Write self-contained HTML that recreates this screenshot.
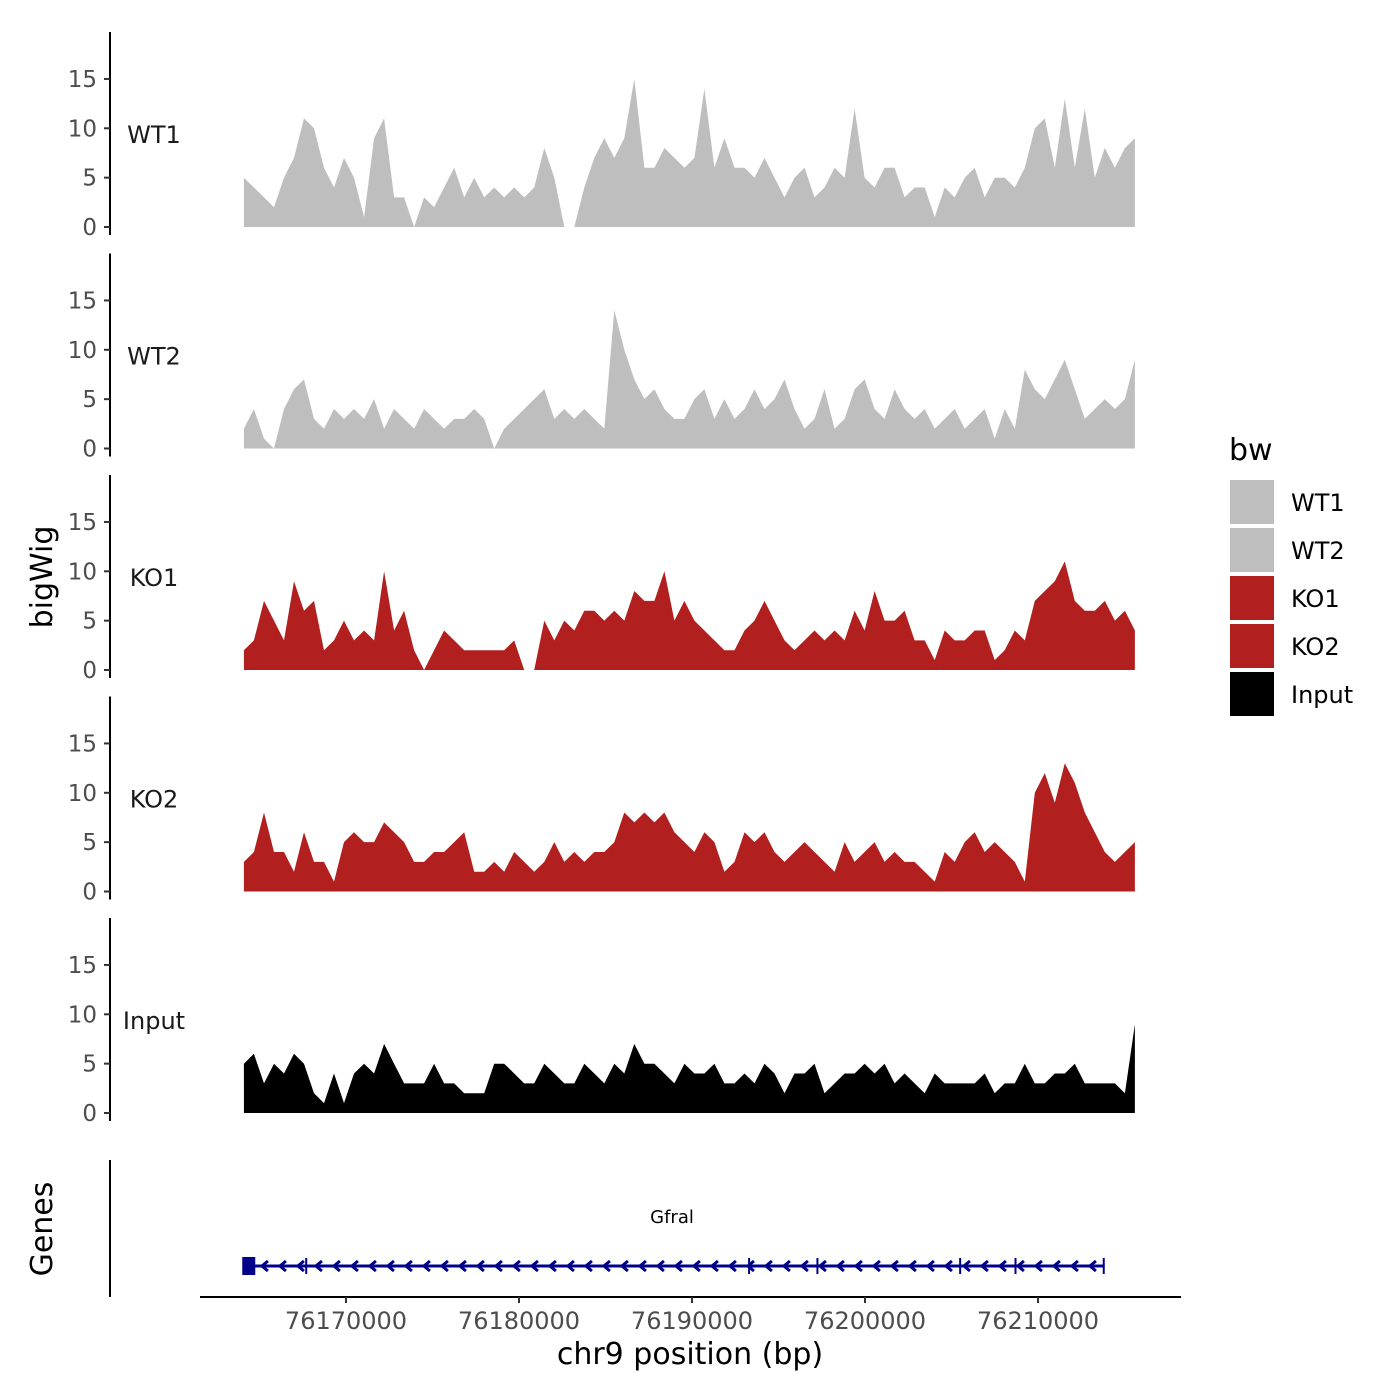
<!DOCTYPE html>
<html><head><meta charset="utf-8"><style>
html,body{margin:0;padding:0;background:#fff}
svg{display:block;font-family:"DejaVu Sans","Liberation Sans",sans-serif}
</style></head><body>
<svg id="chart" width="1400" height="1400" viewBox="0 0 1400 1400">
<rect width="1400" height="1400" fill="#fff"/>
<g id="tracks"></g>
<g id="genes"></g>
<text x="52" y="577" transform="rotate(-90 52 577)" text-anchor="middle" font-size="30" fill="#000">bigWig</text>
<text x="52" y="1229" transform="rotate(-90 52 1229)" text-anchor="middle" font-size="30" fill="#000">Genes</text>
<line x1="110" y1="1160" x2="110" y2="1297" stroke="#000" stroke-width="2"/>
<line x1="200" y1="1297" x2="1181" y2="1297" stroke="#000" stroke-width="2"/>
<g id="xaxis"></g>
<text x="690" y="1364" text-anchor="middle" font-size="30" fill="#000">chr9 position (bp)</text>
<g>
<text x="1229" y="460" font-size="30" fill="#000">bw</text>
<rect x="1230" y="480" width="44" height="44" fill="#bebebe"/>
<rect x="1230" y="528" width="44" height="44" fill="#bebebe"/>
<rect x="1230" y="576" width="44" height="44" fill="#b21f1f"/>
<rect x="1230" y="624" width="44" height="44" fill="#b21f1f"/>
<rect x="1230" y="672" width="44" height="44" fill="#000"/>
<text x="1291" y="511" font-size="24" fill="#000">WT1</text>
<text x="1291" y="559" font-size="24" fill="#000">WT2</text>
<text x="1291" y="607" font-size="24" fill="#000">KO1</text>
<text x="1291" y="655" font-size="24" fill="#000">KO2</text>
<text x="1291" y="703" font-size="24" fill="#000">Input</text>
</g>
</svg>
<script>
const trackNames = ["WT1","WT2","KO1","KO2","Input"];
const trackColors = ["#bebebe","#bebebe","#b21f1f","#b21f1f","#000000"];
const yTicks = [0,5,10,15];
const xTicks = [76170000,76180000,76190000,76200000,76210000];
const dataStart = 76164100;
const dataEnd = 76215600;
const wt1 = [5,4,3,2,5,7,11,10,6,4,7,5,1,9,11,3,3,0,3,2,4,6,3,5,3,4,3,4,3,4,8,5,0,0,4,7,9,7,9,15,6,6,8,7,6,7,14,6,9,6,6,5,7,5,3,5,6,3,4,6,5,12,5,4,6,6,3,4,4,1,4,3,5,6,3,5,5,4,6,10,11,6,13,6,12,5,8,6,8,9];
const wt2 = [2,4,1,0,4,6,7,3,2,4,3,4,3,5,2,4,3,2,4,3,2,3,3,4,3,0,2,3,4,5,6,3,4,3,4,3,2,14,10,7,5,6,4,3,3,5,6,3,5,3,4,6,4,5,7,4,2,3,6,2,3,6,7,4,3,6,4,3,4,2,3,4,2,3,4,1,4,2,8,6,5,7,9,6,3,4,5,4,5,9];
const ko1 = [2,3,7,5,3,9,6,7,2,3,5,3,4,3,10,4,6,2,0,2,4,3,2,2,2,2,2,3,0,0,5,3,5,4,6,6,5,6,5,8,7,7,10,5,7,5,4,3,2,2,4,5,7,5,3,2,3,4,3,4,3,6,4,8,5,5,6,3,3,1,4,3,3,4,4,1,2,4,3,7,8,9,11,7,6,6,7,5,6,4];
const ko2 = [3,4,8,4,4,2,6,3,3,1,5,6,5,5,7,6,5,3,3,4,4,5,6,2,2,3,2,4,3,2,3,5,3,4,3,4,4,5,8,7,8,7,8,6,5,4,6,5,2,3,6,5,6,4,3,4,5,4,3,2,5,3,4,5,3,4,3,3,2,1,4,3,5,6,4,5,4,3,1,10,12,9,13,11,8,6,4,3,4,5];
const inputTrack = [5,6,3,5,4,6,5,2,1,4,1,4,5,4,7,5,3,3,3,5,3,3,2,2,2,5,5,4,3,3,5,4,3,3,5,4,3,5,4,7,5,5,4,3,5,4,4,5,3,3,4,3,5,4,2,4,4,5,2,3,4,4,5,4,5,3,4,3,2,4,3,3,3,3,4,2,3,3,5,3,3,4,4,5,3,3,3,3,2,9];
const trackData = [wt1,wt2,ko1,ko2,inputTrack];
const exonPositions = [76164350,76167700,76193300,76197250,76205500,76208700,76213800];
const geneStart = 76164100, geneEnd = 76213850;

const NS="http://www.w3.org/2000/svg";
function xScale(p){return 346+(p-76170000)*0.0173;}
const panelZero=[227,448.5,670,891.5,1113];
function yScale(i,v){return panelZero[i]-v*9.87;}
function mk(tag,attrs,parent){const e=document.createElementNS(NS,tag);for(const k in attrs)e.setAttribute(k,attrs[k]);parent.appendChild(e);return e;}

const tg=document.getElementById('tracks');
trackNames.forEach((name,i)=>{
  const g=mk('g',{},tg);
  
  
  const axl=mk('line',{x1:110,y1:panelZero[i]-195,x2:110,y2:panelZero[i]+8,stroke:'#000','stroke-width':2},g);
  
  
  yTicks.forEach(t=>{
    const y=yScale(i,t);
    const tl=mk('line',{x1:104,y1:y,x2:110,y2:y,stroke:'#333','stroke-width':2},g);
    
    
    const tx=mk('text',{x:97,y:y+8,'text-anchor':'end','font-size':23,fill:'#4d4d4d'},g);
    tx.textContent=t;
    
    
  });
  const lab=mk('text',{x:154,y:panelZero[i]-84,'text-anchor':'middle','font-size':24,fill:'#1a1a1a'},g);
  lab.textContent=name;
  
  
  const d=trackData[i], n=d.length, step=(dataEnd-dataStart)/(n-1);
  let path='M'+xScale(dataStart)+','+panelZero[i];
  d.forEach((v,k)=>{path+=' L'+xScale(dataStart+k*step).toFixed(1)+','+yScale(i,v).toFixed(1);});
  path+=' L'+xScale(dataEnd)+','+panelZero[i]+' Z';
  const a=mk('path',{d:path,fill:trackColors[i]},g);
  
  
});

const xa=document.getElementById('xaxis');
xTicks.forEach(t=>{
  const x=xScale(t);
  const l=mk('line',{x1:x,y1:1297,x2:x,y2:1303,stroke:'#333','stroke-width':2},xa);
  
  
  const tx=mk('text',{x:x,y:1329,'text-anchor':'middle','font-size':24,fill:'#4d4d4d'},xa);
  tx.textContent=t;
  
  
});

const gg=document.getElementById('genes');
const gy=1266, col='#00008b';
const gl=mk('line',{x1:xScale(geneStart),y1:gy,x2:xScale(geneEnd),y2:gy,stroke:col,'stroke-width':3},gg);


for(let x=xScale(geneStart)+20;x<xScale(geneEnd)-4;x+=18){
  const c=mk('path',{d:`M${x+4},${gy-5} L${x-2},${gy} L${x+4},${gy+5}`,stroke:col,'stroke-width':3,fill:'none'},gg);
  
  
}
const bx=mk('rect',{x:xScale(exonPositions[0])-6,y:gy-9,width:13,height:18,fill:col},gg);


exonPositions.slice(1).forEach(p=>{
  const e=mk('line',{x1:xScale(p),y1:gy-8,x2:xScale(p),y2:gy+8,stroke:col,'stroke-width':2},gg);
  
  
});
const gt=mk('text',{x:672,y:1223,'text-anchor':'middle','font-size':18,fill:'#000'},gg);
gt.textContent='Gfral';


</script>
</body></html>
